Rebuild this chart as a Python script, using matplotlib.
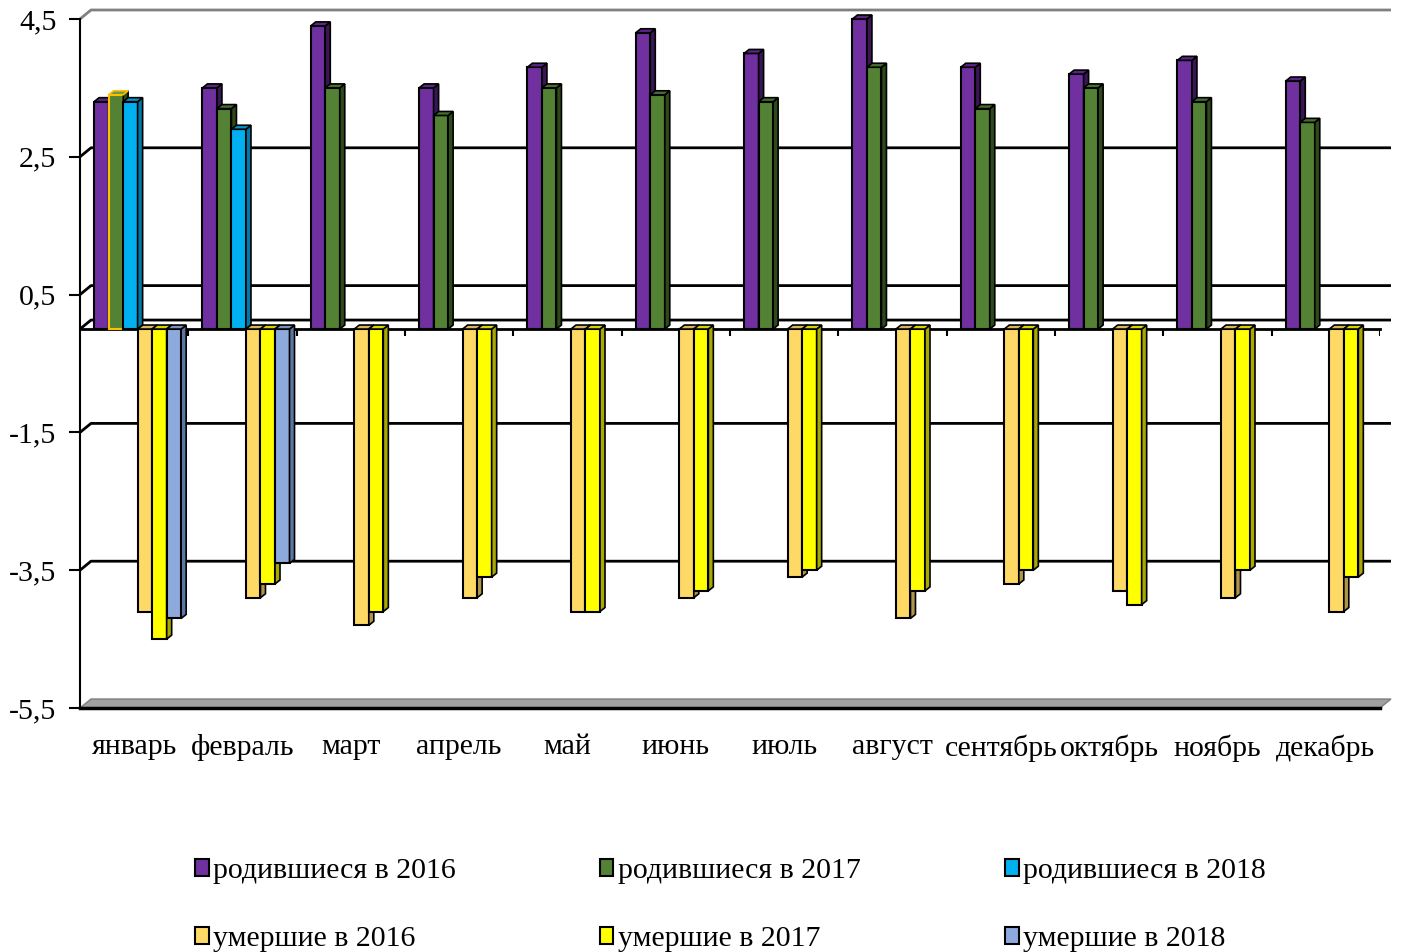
import numpy as np
import matplotlib.pyplot as plt
from matplotlib.patches import Polygon, Patch

plt.rcParams['font.family'] = ['Liberation Serif', 'DejaVu Serif']

months = ['январь', 'февраль', 'март', 'апрель', 'май', 'июнь',
          'июль', 'август', 'сентябрь', 'октябрь', 'ноябрь', 'декабрь']
nan = np.nan

born_2016 = [3.3, 3.5, 4.4, 3.5, 3.8, 4.3, 4.0, 4.5, 3.8, 3.7, 3.9, 3.6]
born_2017 = [3.4, 3.2, 3.5, 3.1, 3.5, 3.4, 3.3, 3.8, 3.2, 3.5, 3.3, 3.0]
born_2018 = [3.3, 2.9, nan, nan, nan, nan, nan, nan, nan, nan, nan, nan]
died_2016 = [-4.1, -3.9, -4.3, -3.9, -4.1, -3.9, -3.6, -4.2, -3.7, -3.8, -3.9, -4.1]
died_2017 = [-4.5, -3.7, -4.1, -3.6, -4.1, -3.8, -3.5, -3.8, -3.5, -4.0, -3.5, -3.6]
died_2018 = [-4.2, -3.4, nan, nan, nan, nan, nan, nan, nan, nan, nan, nan]

yticks = [4.5, 2.5, 0.5, -1.5, -3.5, -5.5]

# label, values, front colour, side colour, top colour
series = [
    ('родившиеся в 2016', born_2016, '#7030A0', '#3B1657', '#5B2585'),
    ('родившиеся в 2017', born_2017, '#548235', '#2C4A1A', '#44702A'),
    ('родившиеся в 2018', born_2018, '#00B0F0', '#0079A8', '#0096CC'),
    ('умершие в 2016', died_2016, '#FFD966', '#B09448', '#D9B758'),
    ('умершие в 2017', died_2017, '#FFFF00', '#A8A800', '#D4D400'),
    ('умершие в 2018', died_2018, '#8EA9DB', '#5D77A4', '#7891C0'),
]

W, H = 1402, 952
fig = plt.figure(figsize=(W / 100, H / 100), dpi=100)
ax = fig.add_axes([80 / W, 1 - 708 / H, 1300 / W, 689 / H])
ax.set_xlim(0, 12)
ax.set_ylim(-5.5, 4.5)

# pixel -> data conversions for the fake 3d depth
px_x = 1300 / 12
px_y = 689 / 10
bdx, bdy = 11 / px_x, 9 / px_y      # back wall shift
dx, dy = 5 / px_x, 4 / px_y         # bar depth

# back wall gridlines with the slanted joins at the left
for y in yticks[:-1] + [0]:
    col = '#808080' if y == 4.5 else 'black'
    ax.plot([0, bdx, 12 + bdx], [y, y + bdy, y + bdy], color=col, lw=2,
            zorder=1, clip_on=False, solid_capstyle='butt')

# floor slab at the bottom
floor = Polygon([(0, -5.5), (12, -5.5), (12 + bdx, -5.5 + bdy), (bdx, -5.5 + bdy)],
                closed=True, fc='#A0A0A0', ec='#808080', lw=1, zorder=1, clip_on=False)
ax.add_patch(floor)
ax.plot([0, 12], [-5.5, -5.5], color='black', lw=2.5, zorder=1.5, clip_on=False)

# category axis at zero
ax.plot([0, 12], [0, 0], color='black', lw=2, zorder=1.5, clip_on=False)
ax.vlines(np.arange(1, 13), -7 / px_y, 0, color='black', lw=1.5, zorder=1.5)

bw = 0.134
x_cat = np.arange(12)
for k, (label, vals, front, side, top) in enumerate(series):
    bars = ax.bar(x_cat + 0.13 + k * bw, vals, width=bw, align='edge',
                  color=front, edgecolor='black', lw=1.5, label=label)
    for i, rect in enumerate(bars.patches):
        v = vals[i]
        if np.isnan(v):
            continue
        z = 3 + i * 10 + k * 1.5
        x0 = rect.get_x()
        x1 = x0 + rect.get_width()
        ty = max(v, 0)
        rect.set_zorder(z)
        rect.set_clip_on(False)
        if label == 'родившиеся в 2017' and i == 0:
            rect.set_edgecolor('#FFC000')
        side_face = Polygon([(x1, 0), (x1 + dx, dy), (x1 + dx, v + dy), (x1, v)],
                            closed=True, fc=side, ec='black', lw=1.2, zorder=z,
                            clip_on=False)
        top_face = Polygon([(x0, ty), (x1, ty), (x1 + dx, ty + dy), (x0 + dx, ty + dy)],
                           closed=True, fc=top, ec='black', lw=1.2, zorder=z,
                           clip_on=False)
        if label == 'родившиеся в 2017' and i == 0:
            top_face.set_edgecolor('#FFC000')
            top_face.set_facecolor('#6E9A48')
        ax.add_patch(side_face)
        ax.add_patch(top_face)

for s in ['top', 'right', 'bottom']:
    ax.spines[s].set_visible(False)
ax.spines['left'].set_linewidth(1.5)
ax.spines['left'].set_zorder(1.5)

ax.set_yticks(yticks)
ax.set_yticklabels([f'{t:g}'.replace('.', ',') for t in yticks])
ax.tick_params(axis='y', direction='out', length=8, width=1.5, pad=9, labelsize=21.5)
ax.set_xticks(x_cat + 0.5)
ax.set_xticklabels(months)
ax.tick_params(axis='x', length=0, pad=19, labelsize=21.5)

handles = []
order = [0, 3, 1, 4, 2, 5]
for k in order:
    handles.append(Patch(fc=series[k][2], ec='black', lw=1.5, label=series[k][0]))
fig.legend(handles=handles, loc='center', bbox_to_anchor=(0.521, 0.0495), ncol=3,
           frameon=False, fontsize=21.5, handlelength=0.45, handleheight=0.5,
           handletextpad=0.15, columnspacing=4.83, labelspacing=1.42)

fig.savefig('out.png', dpi=100)
